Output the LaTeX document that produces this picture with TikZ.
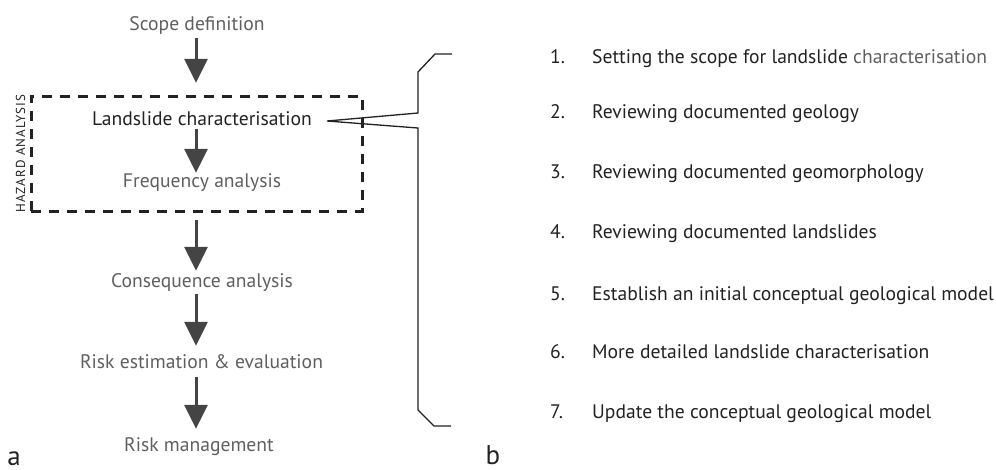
\documentclass[tikz,border=0pt]{standalone}
\usepackage{fontspec}
\setmainfont{PT Sans}
\usepackage{tikz}
\usetikzlibrary{positioning,arrows.meta}

\definecolor{stagegray}{HTML}{5F5F5F}
\definecolor{arrowgray}{HTML}{444444}
\definecolor{listdark}{HTML}{222222}

\begin{document}
\begin{tikzpicture}[x=1pt,y=-1pt,
  flow/.style={-{Triangle[length=24pt,width=23pt]},line width=3pt,draw=arrowgray},
  stage/.style={font=\fontsize{19.6}{22}\selectfont,text=stagegray,anchor=base,
                inner sep=0pt,text height=12pt,text depth=4pt},
  item/.style={font=\fontsize{19.6}{22}\selectfont,text=listdark,
               inner sep=0pt,anchor=base west},
  panel/.style={font=\fontsize{27}{30}\selectfont,text=listdark,inner sep=0pt,anchor=base}]
\useasboundingbox (0,0) rectangle (996,469);

% flow chart (nodes sit on their baselines)
\node[stage] (scope) at (197,30)  {Scope definition};
\node[stage,text=listdark] (land) at (202,125) {Landslide characterisation};
\node[stage] (freq)  at (202,187) {Frequency analysis};
\node[stage] (cons)  at (202,287) {Consequence analysis};
\node[stage] (est)   at (201.5,368) {Risk estimation \& evaluation};
\node[stage] (mgmt)  at (199,451) {Risk management};

\draw[flow,shorten <=4pt,shorten >=30pt]  (scope.south -| 196,0) -- (land.north -| 196,0);
\draw[flow,shorten <=0pt,shorten >=2pt]   (land.south -| 196,0) -- (freq.north -| 196,0);
\draw[flow,shorten <=29pt,shorten >=4pt]  (freq.south -| 196,0) -- (cons.north -| 196,0);
\draw[flow,shorten <=3pt,shorten >=10pt]  (cons.south -| 196,0) -- (est.north -| 196,0);
\draw[flow,shorten <=5pt,shorten >=10pt]  (est.south -| 196,0) -- (mgmt.north -| 196,0);

% hazard box
\node (hazard) [draw=listdark,line width=3pt,dash pattern=on 10pt off 8pt,
                minimum width=331pt,minimum height=115pt] at (196.5,153.5) {};
\node[rotate=90,anchor=south,inner sep=0pt,text=listdark,
      font=\fontsize{13}{15}\selectfont\addfontfeatures{LetterSpace=8}]
  at ([xshift=-4pt]hazard.west) {HAZARD ANALYSIS};

% callout bracket
\coordinate (tip) at ([xshift=15pt]land.east |- 0,121);
\draw[listdark,line width=1.3pt,line join=miter]
  (452,54) -- (435,54) -- (418,72) -- (418,113) -- (tip)
  -- (418,128) -- (418,410) -- (434,426) -- (451,426);

% steps
\foreach \n/\y/\txt in {1/63/{Setting the scope for landslide \textcolor{stagegray}{characterisation}},
                        2/118/{Reviewing documented geology},
                        3/178/{Reviewing documented geomorphology},
                        4/238/{Reviewing documented landslides},
                        5/300/{Establish an initial conceptual geological model},
                        6/358/{More detailed landslide characterisation},
                        7/418/{Update the conceptual geological model}}{
  \node[item] (num\n) at (550,\y) {\n.};
  \node[item] (txt\n) at (592,\y) {\txt};
}

\node[panel] (pa) at (14,465) {a};
\node[panel] (pb) at (493,464) {b};
\end{tikzpicture}
\end{document}
